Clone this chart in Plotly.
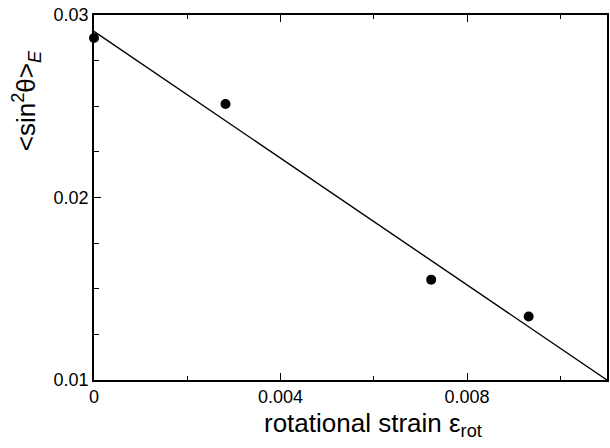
import plotly.graph_objects as go

# data
strain = [0.0, 0.00282, 0.00723, 0.00932]
sin2theta = [0.02874, 0.02512, 0.01550, 0.01348]

# linear fit line endpoints
fit_x = [0.0, 0.011]
fit_y = [0.0291, 0.0100]

x_ticks = [0, 0.004, 0.008]
x_labels = ["0", "0.004", "0.008"]
y_ticks = [0.01, 0.02, 0.03]
y_labels = ["0.01", "0.02", "0.03"]

FONT = "Liberation Sans, Arial, sans-serif"

fig = go.Figure()
fig.add_trace(go.Scatter(x=fit_x, y=fit_y, mode="lines",
                         line=dict(color="black", width=1.4), showlegend=False))
fig.add_trace(go.Scatter(x=strain, y=sin2theta, mode="markers",
                         marker=dict(color="black", size=10), cliponaxis=False,
                         showlegend=False))

axis_common = dict(showgrid=False, zeroline=False, showline=True, linecolor="black",
                   linewidth=1.6, ticks="inside", ticklen=7, tickwidth=1.4,
                   tickcolor="black", tickfont=dict(family=FONT, size=18, color="black"))

fig.update_xaxes(range=[0, 0.011], tickvals=x_ticks, ticktext=x_labels, mirror="ticks",
                 minor=dict(ticks="inside", ticklen=4, tickwidth=1.4, tickcolor="black",
                            dtick=0.002, tick0=0, showgrid=False),
                 **axis_common)
fig.update_yaxes(range=[0.01, 0.03], tickvals=y_ticks, ticktext=y_labels, mirror=True,
                 minor=dict(ticks="inside", ticklen=5, tickwidth=1.4, tickcolor="black",
                            dtick=0.0025, tick0=0.01, showgrid=False),
                 **axis_common)

fig.update_layout(
    width=610, height=448,
    margin=dict(l=94, r=1, t=15, b=68),
    paper_bgcolor="white", plot_bgcolor="white",
    annotations=[
        dict(text="rotational strain ε<sub>rot</sub>", xref="paper", yref="paper",
             x=(374 - 94) / 515, y=-(424 - 380) / 365, xanchor="center", yanchor="middle",
             showarrow=False, font=dict(family=FONT, size=26, color="black")),
        dict(text="&lt;sin<sup>2</sup>θ&gt;<sub><i>E</i></sub>", xref="paper", yref="paper",
             x=(26 - 94) / 515, y=(380 - 101) / 365, xanchor="center", yanchor="middle",
             textangle=-90, showarrow=False, font=dict(family=FONT, size=26, color="black")),
    ],
)

fig.write_html("out.html", config={"displayModeBar": False},
               post_script="document.body.style.margin='0';document.body.style.padding='0';")
